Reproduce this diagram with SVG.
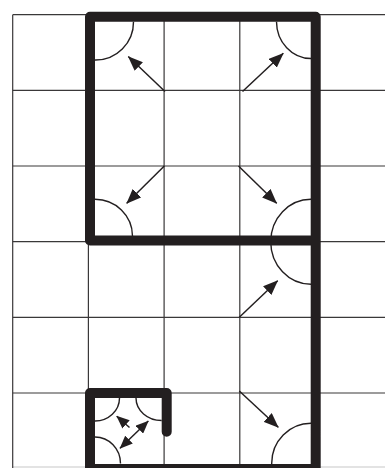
<svg xmlns="http://www.w3.org/2000/svg" width="385" height="468" viewBox="0 0 385 468">
<style>
.grid{stroke:#3a3839;stroke-width:1.2;fill:none}
.wall{stroke:#231f20;stroke-width:10;fill:none;stroke-linejoin:round;stroke-linecap:round}
.arc{stroke:#231f20;stroke-width:1.4;fill:none}
.arr{stroke:#231f20;stroke-width:1.5;fill:none;marker-end:url(#ah)}
.arrs{stroke:#231f20;stroke-width:1.5;fill:none;marker-end:url(#ahs)}
</style>
<defs>
<marker id="ah" markerUnits="userSpaceOnUse" markerWidth="15" markerHeight="12" refX="14.5" refY="6" orient="auto-start-reverse" viewBox="0 0 15 12">
<path d="M0,0 L15,6 L0,12 Z" fill="#231f20"/>
</marker>
<marker id="ahs" markerUnits="userSpaceOnUse" markerWidth="13" markerHeight="11" refX="12.5" refY="5.5" orient="auto-start-reverse" viewBox="0 0 13 11">
<path d="M0,0 L13,5.5 L0,11 Z" fill="#231f20"/>
</marker>
</defs>
<g id="grid">
<path class="grid" d="M12.7,14.7 H385 M12.7,90.4 H385 M12.7,166 H385 M12.7,241.7 H385 M12.7,317.4 H385 M12.7,393 H385"/>
<path d="M12.7,467 H385" stroke="#c8c8c8" stroke-width="1.2"/>
<path class="grid" d="M12.7,14.7 V468 M88.4,14.7 V468 M164.1,14.7 V468 M239.8,14.7 V468 M315.5,14.7 V468"/>
</g>
<g id="walls">
<path class="wall" d="M90,240.5 V16.7 H315.7 V469 H90 V393 H166.7 V431.7 M90,240.5 H315.7"/>
</g>
<g id="doors">
<path class="arc" d="M95,60 A38,38 0 0 0 133.5,21.7"/>
<path class="arc" d="M276.5,21.7 A34.5,37 0 0 0 311,58.5"/>
<path class="arc" d="M95,199.3 A37.5,37 0 0 1 132.5,236"/>
<path class="arc" d="M311,199.3 A40.3,42.5 0 0 0 311,284.3"/>
<path class="arc" d="M311,423.3 A39.3,40 0 0 0 271.7,463.3 V468"/>
<path class="arc" d="M95,421 A24.5,23 0 0 0 119.5,398"/>
<path class="arc" d="M136,398 A25.7,22.5 0 0 0 161.7,420.5"/>
<path class="arc" d="M95,437 A25.5,26.5 0 0 1 120.5,463.5"/>
</g>
<g id="connectors">
<line class="arr" x1="165" y1="91.5" x2="128.3" y2="56.5"/>
<line class="arr" x1="242.5" y1="91.5" x2="283.3" y2="53.3"/>
<line class="arr" x1="164.3" y1="166" x2="126.7" y2="203.3"/>
<line class="arr" x1="238.5" y1="166" x2="276.7" y2="203.3"/>
<line class="arr" x1="239.3" y1="317.3" x2="277.7" y2="280.7"/>
<line class="arr" x1="239.3" y1="391" x2="278.3" y2="427.3"/>
<line class="arrs" x1="129.5" y1="427.5" x2="116.7" y2="416.2"/>
<line class="arrs" x1="120" y1="448.3" x2="148.3" y2="421" marker-start="url(#ahs)"/>
</g>
</svg>
